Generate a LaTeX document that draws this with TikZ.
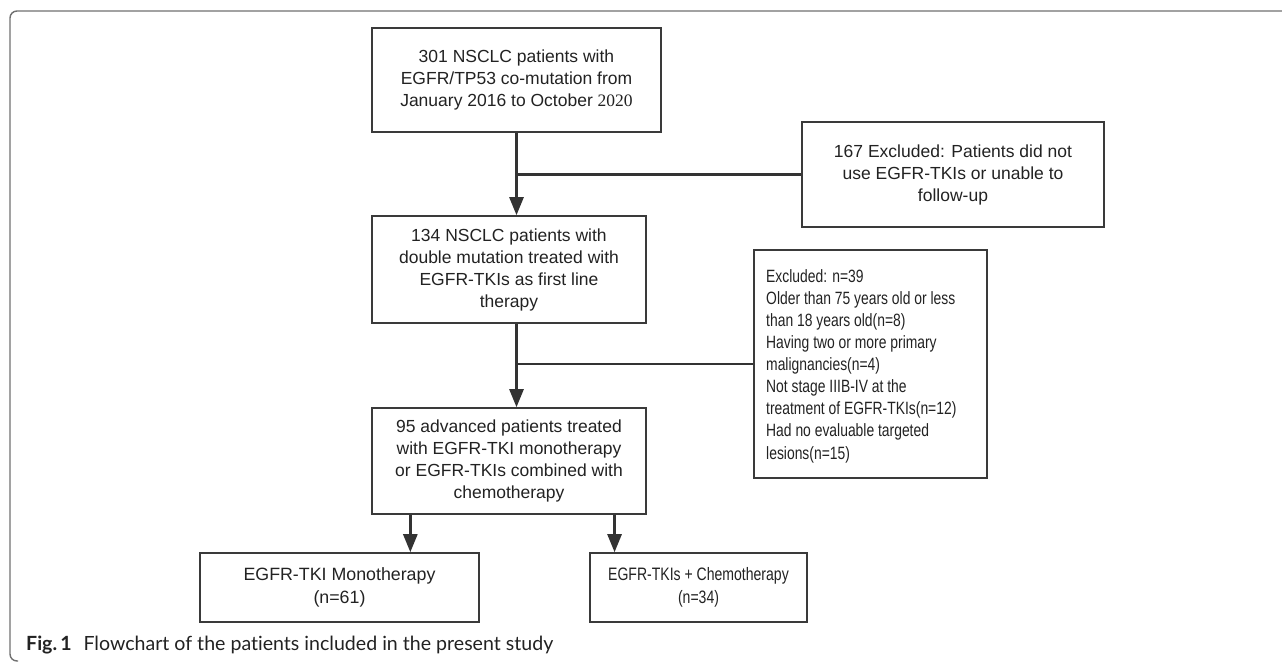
\documentclass[tikz,border=0pt]{standalone}
\usepackage{fontspec}
\usepackage{graphicx}
\setmainfont{Liberation Sans}
\newfontfamily\narrowfont[FakeStretch=0.78]{Liberation Sans}
\newfontfamily\tnrfont{Liberation Serif}
\newfontfamily\capfont[Ligatures={NoCommon,NoRare,NoContextual}]{Lato}
\usetikzlibrary{arrows.meta,calc}
\definecolor{linec}{HTML}{333333}
\definecolor{boxc}{HTML}{3A3A3A}
\definecolor{txtc}{HTML}{222222}
\definecolor{framec}{HTML}{707070}
\tikzset{
  box/.style={draw=boxc, line width=1.6pt, align=center, inner sep=0pt, text=txtc,
    font=\fontsize{17.5}{22}\selectfont},
  conn/.style={draw=linec, line width=2.6pt},
  arr/.style={conn, -{Triangle[length=18pt,width=14pt]}},
}
\begin{document}
\begin{tikzpicture}[x=1pt,y=-1pt]
\useasboundingbox (0,0) rectangle (1282,662);
% outer frame
\draw[framec, line width=1.4pt, rounded corners=7pt] (1290,11) -- (10,11) -- (10,661) -- (18,661);
% boxes
\node[box, minimum width=289pt, minimum height=104pt] (b1) at (516.5,80)
  {301 NSCLC patients with\\EGFR/TP53 co-mutation from\\January 2016 to October {\tnrfont 2020}};
\node[box, minimum width=302pt, minimum height=105pt] (e1) at (953,174.5)
  {167 Excluded: Patients did not\\use EGFR-TKIs or unable to\\follow-up};
\node[box, minimum width=274pt, minimum height=107pt] (b2) at (509,269.5)
  {134 NSCLC patients with\\double mutation treated with\\EGFR-TKIs as first line\\therapy};
\node[box, minimum width=233pt, minimum height=228pt] (e2) at (870.5,364) {};
\node[anchor=west, align=left, inner sep=0pt, text=txtc,
  font=\narrowfont\fontsize{17.8}{22.1}\selectfont] (e2t) at (766,366)
  {Excluded: n=39\\Older than 75 years old or less\\than 18 years old(n=8)\\Having two or more primary\\malignancies(n=4)\\Not stage IIIB-IV at the\\treatment of EGFR-TKIs(n=12)\\Had no evaluable targeted\\lesions(n=15)};
\node[box, minimum width=274pt, minimum height=106pt] (b3) at (509,461)
  {95 advanced patients treated\\with EGFR-TKI monotherapy\\or EGFR-TKIs combined with\\chemotherapy};
\node[box, minimum width=279pt, minimum height=69pt, font=\fontsize{17.8}{23}\selectfont] (b4) at (339.5,587.5)
  {EGFR-TKI Monotherapy\\(n=61)};
\node[box, minimum width=217pt, minimum height=69pt, font=\narrowfont\fontsize{18}{23}\selectfont] (b5) at (698.5,587.5)
  {EGFR-TKIs + Chemotherapy\\(n=34)};
% connectors
\draw[arr] (b1.south) -- (b1.south |- b2.north);
\draw[conn] (b1.south |- e1.west) -- (e1.west);
\draw[arr] (b1.south |- b2.south) -- (b1.south |- b3.north);
\draw[conn] (b1.south |- e2.west) -- (e2.west);
\coordinate (s4) at ($(b3.south west)!0.142!(b3.south east)$);
\coordinate (s5) at ($(b3.south west)!0.883!(b3.south east)$);
\draw[arr] (s4) -- (s4 |- b4.north);
\draw[arr] (s5) -- (s5 |- b5.north);
% caption
\node[anchor=base west, inner sep=0pt, text=txtc] (cap) at (26,650)
  {\resizebox{527pt}{!}{\capfont\fontsize{16}{19}\selectfont\textbf{Fig.\,1}\hspace{0.6em}Flowchart of the patients included in the present study}};
\end{tikzpicture}
\end{document}
